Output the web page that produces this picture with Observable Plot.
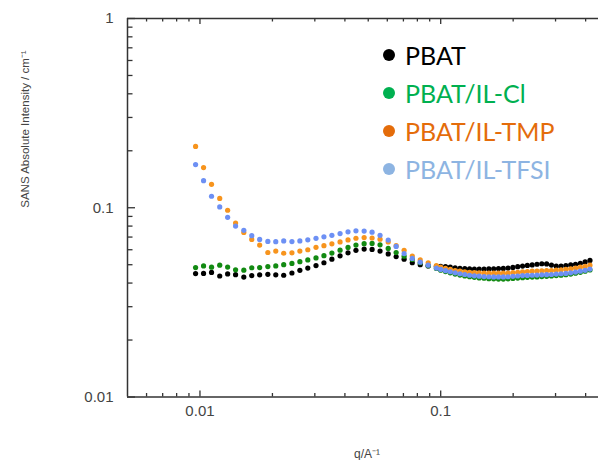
<!DOCTYPE html>
<html><head><meta charset="utf-8">
<script src="https://cdn.jsdelivr.net/npm/d3@7"></script>
<script src="https://cdn.jsdelivr.net/npm/@observablehq/plot@0.6"></script>
<style>
body{margin:0;background:#fff;}
#wrap{position:relative;width:598px;height:460px;overflow:hidden;background:#fff;}
#legend{position:absolute;left:0;top:0;font-family:Lato,"Open Sans",sans-serif;font-size:25px;}
.row{position:absolute;left:383px;height:38px;display:flex;align-items:center;white-space:nowrap;}
.sw{width:12px;height:12px;border-radius:50%;margin-right:10px;flex:none;}
</style>
</head><body>
<div id="wrap"><div id="legend"></div></div>
<script>
// q grid (Å^-1)
const q = [0.00959, 0.01035, 0.01117, 0.01208, 0.01303, 0.01406, 0.01521, 0.01641, 0.01770, 0.01914,
  0.02065, 0.02228, 0.02410, 0.02600, 0.02805, 0.03034, 0.03273, 0.03532, 0.03819, 0.04121,
  0.04446, 0.04808, 0.05188, 0.05598, 0.06053, 0.06531, 0.07047, 0.07621, 0.08222, 0.08872,
  0.09594,
  0.1000, 0.1047, 0.1096, 0.1148, 0.1202, 0.1259, 0.1318, 0.1380, 0.1445, 0.1514,
  0.1585, 0.1660, 0.1738, 0.1820, 0.1905, 0.1995, 0.2089, 0.2188, 0.2291, 0.2399,
  0.2512, 0.2630, 0.2754, 0.2884, 0.3020, 0.3162, 0.3311, 0.3467, 0.3631, 0.3802,
  0.3981, 0.4169];

const iPBAT = [0.0449, 0.0450, 0.0455, 0.0436, 0.0447, 0.0443, 0.0430, 0.0438, 0.0442, 0.0445,
  0.0442, 0.0440, 0.0452, 0.0467, 0.0480, 0.0495, 0.0512, 0.0535, 0.0557, 0.0578,
  0.0596, 0.0605, 0.0602, 0.0590, 0.0570, 0.0552, 0.0535, 0.0512, 0.0500, 0.0493,
  0.0490,
  0.0490, 0.0488, 0.0485, 0.0482, 0.0479, 0.0477, 0.0475, 0.0474, 0.0474, 0.0474,
  0.0475, 0.0476, 0.0477, 0.0478, 0.0480, 0.0484, 0.0488, 0.0492, 0.0496, 0.0499,
  0.0503, 0.0506, 0.0505, 0.0498, 0.0491, 0.0492, 0.0495, 0.0499, 0.0503, 0.0509,
  0.0517, 0.0527];

const iCl = [0.0483, 0.0493, 0.0485, 0.0497, 0.0486, 0.0470, 0.0468, 0.0482, 0.0483, 0.0489,
  0.0493, 0.0500, 0.0508, 0.0519, 0.0530, 0.0543, 0.0558, 0.0576, 0.0597, 0.0617,
  0.0635, 0.0646, 0.0648, 0.0637, 0.0610, 0.0580, 0.0555, 0.0533, 0.0512, 0.0494,
  0.0478,
  0.0468, 0.0460, 0.0453, 0.0446, 0.0441, 0.0436, 0.0432, 0.0429, 0.0426, 0.0424,
  0.0422, 0.0421, 0.0420, 0.0420, 0.0421, 0.0423, 0.0425, 0.0427, 0.0429, 0.0430,
  0.0431, 0.0433, 0.0434, 0.0436, 0.0438, 0.0440, 0.0443, 0.0446, 0.0451, 0.0456,
  0.0462, 0.0469];

const iTMP = [0.211, 0.163, 0.133, 0.112, 0.097, 0.083, 0.074, 0.068, 0.0635, 0.058,
  0.059, 0.0575, 0.0578, 0.059, 0.060, 0.0618, 0.063, 0.0645, 0.066, 0.0676,
  0.0690, 0.0696, 0.0692, 0.0682, 0.066, 0.063, 0.0596, 0.0556, 0.0530, 0.0512,
  0.0495,
  0.0485, 0.0478, 0.0472, 0.0466, 0.0462, 0.0459, 0.0456, 0.0454, 0.0453, 0.0452,
  0.0451, 0.0451, 0.0451, 0.0451, 0.0452, 0.0454, 0.0456, 0.0458, 0.0460, 0.0462,
  0.0463, 0.0464, 0.0465, 0.0466, 0.0468, 0.0470, 0.0473, 0.0476, 0.0480, 0.0485,
  0.0490, 0.0497];

const iTFSI = [0.169, 0.139, 0.115, 0.101, 0.089, 0.080, 0.076, 0.0712, 0.0680, 0.0664,
  0.0662, 0.0668, 0.0663, 0.0668, 0.0677, 0.0689, 0.0702, 0.0715, 0.0730, 0.0746,
  0.0755, 0.0753, 0.0743, 0.0715, 0.0675, 0.0625, 0.0572, 0.0540, 0.0516, 0.0497,
  0.0480,
  0.0472, 0.0465, 0.0459, 0.0453, 0.0448, 0.0444, 0.0440, 0.0437, 0.0435, 0.0433,
  0.0432, 0.0431, 0.0431, 0.0431, 0.0432, 0.0434, 0.0436, 0.0438, 0.0439, 0.0440,
  0.0441, 0.0442, 0.0443, 0.0444, 0.0446, 0.0448, 0.0450, 0.0453, 0.0457, 0.0462,
  0.0467, 0.0474];

const seriesNames = ["PBAT", "PBAT/IL-Cl", "PBAT/IL-TMP", "PBAT/IL-TFSI"];
const seriesValues = [iPBAT, iCl, iTMP, iTFSI];
const dotColors = ["#000000", "#128a12", "#f7941d", "#6d90f4"];
const legendColors = ["#000000", "#00b050", "#e46c0a", "#8db4e2"];

const xDomain = [0.005, 0.4524];
const yDomain = [0.01, 1];
const xMajor = [0.01, 0.1];
const xLabels = ["0.01", "0.1"];
const xMinor = [0.006, 0.007, 0.008, 0.009, 0.02, 0.03, 0.04, 0.05, 0.06, 0.07, 0.08, 0.09, 0.2, 0.3, 0.4];
const yMajor = [0.01, 0.1, 1];
const yLabels = ["0.01", "0.1", "1"];
const yMinor = [0.02, 0.03, 0.04, 0.05, 0.06, 0.07, 0.08, 0.09, 0.2, 0.3, 0.4, 0.5, 0.6, 0.7, 0.8, 0.9];
const xTitle = "q/A\u207B\u00B9";
const yTitle = "SANS Absolute Intensity / cm\u207B\u00B9";

const rows = seriesNames.flatMap((name, k) => q.map((qq, i) => ({q: qq, I: seriesValues[k][i], s: name})));

const W = 598, H = 460, mL = 127, mR = 0, mT = 18, mB = 63.5;
const frameW = W - mL - mR, frameH = H - mT - mB;
const axisColor = "#333";
const labelColor = "#444";
const tk = {stroke: axisColor, strokeWidth: 1.3};
// inward tick marks: rules that span only a few pixels at the frame edge
const tickBottom = (vals, len) => Plot.ruleX(vals, {x: d => d, insetTop: frameH - len, ...tk});
const tickTop = (vals, len) => Plot.ruleX(vals, {x: d => d, insetBottom: frameH - len, ...tk});
const tickLeft = (vals, len) => Plot.ruleY(vals, {y: d => d, insetRight: frameW - len, ...tk});

const chart = Plot.plot({
  width: W, height: H,
  marginLeft: mL, marginRight: mR, marginTop: mT, marginBottom: mB,
  style: {fontFamily: "'Liberation Sans', Arial, sans-serif", background: "#fff", overflow: "hidden"},
  x: {type: "log", domain: xDomain},
  y: {type: "log", domain: yDomain},
  color: {domain: seriesNames, range: dotColors},
  marks: [
    Plot.dot(rows, {x: "q", y: "I", fill: "s", r: 2.6}),
    tickBottom(xMajor, 6), tickBottom(xMinor, 3.5),
    tickTop(xMajor, 6), tickTop(xMinor, 3.5),
    tickLeft(yMajor, 8), tickLeft(yMinor, 5.5),
    Plot.ruleY([yDomain[0], yDomain[1]], {stroke: axisColor, strokeWidth: 1.5}),
    Plot.ruleX([xDomain[0]], {stroke: axisColor, strokeWidth: 1.5}),
    Plot.axisX(xMajor, {anchor: "bottom", tickSize: 0, tickPadding: 8, tickFormat: d => xLabels[xMajor.indexOf(d)], label: null, fontSize: 15, fill: labelColor}),
    Plot.axisY(yMajor, {anchor: "left", tickSize: 0, tickPadding: 14, tickFormat: d => yLabels[yMajor.indexOf(d)], label: null, fontSize: 15, fill: labelColor}),
    Plot.text([xTitle], {frameAnchor: "bottom", dx: 4, dy: 61, text: d => d, fontSize: 12, fill: labelColor}),
    Plot.text([yTitle], {frameAnchor: "left", dx: -102, rotate: -90, text: d => d, fontSize: 11.5, fill: labelColor})
  ]
});
document.getElementById("wrap").prepend(chart);

const legendY = [55, 93, 131, 169];
const legend = document.getElementById("legend");
seriesNames.forEach((name, k) => {
  const row = document.createElement("div");
  row.className = "row";
  row.style.top = (legendY[k] - 19) + "px";
  const sw = document.createElement("span");
  sw.className = "sw";
  sw.style.background = legendColors[k];
  const tx = document.createElement("span");
  tx.textContent = name;
  tx.style.color = legendColors[k];
  row.append(sw, tx);
  legend.append(row);
});
</script>
</body></html>
